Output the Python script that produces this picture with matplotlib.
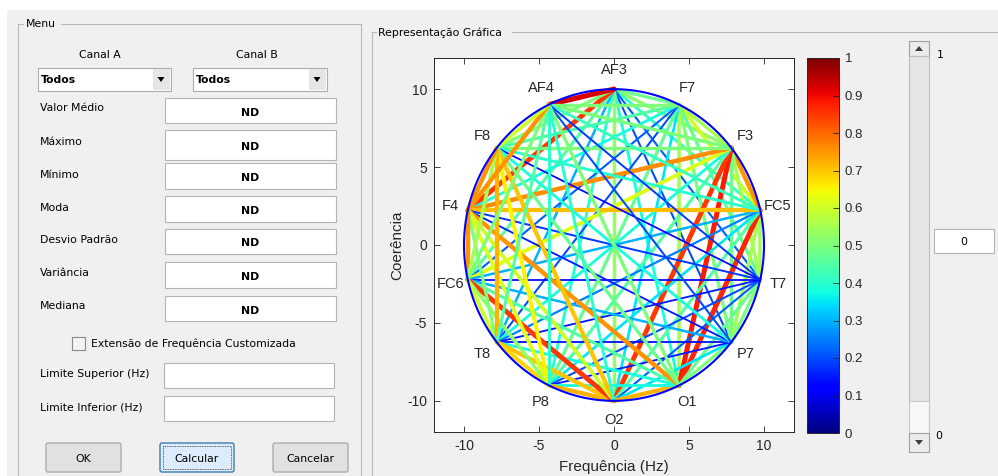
import numpy as np
import matplotlib
matplotlib.use("Agg")
import matplotlib.pyplot as plt
from matplotlib.patches import Rectangle, Polygon, FancyBboxPatch
from matplotlib.cm import ScalarMappable
from matplotlib.colors import Normalize

plt.rcParams["axes.unicode_minus"] = False

# ---------------------------------------------------------------- data
channels = ["AF3", "F7", "F3", "FC5", "T7", "P7", "O1",
            "O2", "P8", "T8", "FC6", "F4", "F8", "AF4"]

# coherence of each channel with the channels that follow it in the list
coh_AF3 = [0.48, 0.52, 0.42, 0.22, 0.20, 0.38, 0.53, 0.40, 0.30, 0.45, 0.85, 0.50, 0.92]
coh_F7 = [0.55, 0.60, 0.47, 0.50, 0.55, 0.35, 0.47, 0.20, 0.22, 0.38, 0.45, 0.50]
coh_F3 = [0.75, 0.55, 0.48, 0.88, 0.85, 0.45, 0.38, 0.62, 0.76, 0.50, 0.50]
coh_FC5 = [0.55, 0.55, 0.87, 0.45, 0.35, 0.25, 0.30, 0.71, 0.40, 0.42]
coh_T7 = [0.50, 0.48, 0.22, 0.20, 0.15, 0.12, 0.18, 0.12, 0.18]
coh_P7 = [0.50, 0.35, 0.15, 0.14, 0.30, 0.15, 0.38, 0.20]
coh_O1 = [0.72, 0.38, 0.38, 0.45, 0.75, 0.48, 0.50]
coh_O2 = [0.72, 0.70, 0.85, 0.60, 0.70, 0.40]
coh_P8 = [0.68, 0.52, 0.62, 0.65, 0.40]
coh_T8 = [0.60, 0.50, 0.72, 0.45]
coh_FC6 = [0.75, 0.55, 0.50]
coh_F4 = [0.75, 0.75]
coh_F8 = [0.60]
coh_rows = [coh_AF3, coh_F7, coh_F3, coh_FC5, coh_T7, coh_P7, coh_O1,
            coh_O2, coh_P8, coh_T8, coh_FC6, coh_F4, coh_F8]

axis_ticks = [-10, -5, 0, 5, 10]
cbar_ticks = [0, 0.1, 0.2, 0.3, 0.4, 0.5, 0.6, 0.7, 0.8, 0.9, 1]
stat_labels = ["Valor Médio", "Máximo", "Mínimo", "Moda",
               "Desvio Padrão", "Variância", "Mediana"]
stat_values = ["ND"] * len(stat_labels)

# ---------------------------------------------------------------- figure
W, H = 998, 476
BG = "#f0f0f0"
GUI_FONT = "DejaVu Sans"
PLOT_FONT = "Liberation Sans"
GUI_SIZE = 7.8

fig = plt.figure(figsize=(W / 100, H / 100), dpi=100, facecolor=BG)
ui = fig.add_axes([0, 0, 1, 1], zorder=0)
ui.set_xlim(0, W)
ui.set_ylim(H, 0)
ui.axis("off")


def box(x0, y0, x1, y1, face="white", edge="#ababab", lw=0.8, z=1):
    ui.add_patch(Rectangle((x0, y0), x1 - x0, y1 - y0, facecolor=face,
                           edgecolor=edge, linewidth=lw, zorder=z))


def text(x, y, s, size=GUI_SIZE, ha="left", weight="normal", color="black", **kw):
    ui.text(x, y, s, fontsize=size, ha=ha, va="center", family=GUI_FONT,
            weight=weight, color=color, **kw)


def button(x0, y0, x1, y1, label, face="#e1e1e1", edge="#adadad", focus=False):
    ui.add_patch(FancyBboxPatch((x0, y0), x1 - x0, y1 - y0,
                                boxstyle="round,pad=0,rounding_size=2",
                                facecolor=face, edgecolor=edge, linewidth=1.0, zorder=2))
    if focus:
        ui.add_patch(Rectangle((x0 + 3, y0 + 3), x1 - x0 - 6, y1 - y0 - 6,
                               facecolor="none", edgecolor="#333333",
                               linewidth=0.6, linestyle=(0, (1, 1)), zorder=3))
    text((x0 + x1) / 2, (y0 + y1) / 2 + 1, label, ha="center", zorder=4)


# window strip at the top / left
box(0, 0, W, 10, face="white", edge="none", lw=0)
box(0, 10, 7, H, face="white", edge="none", lw=0)

# ---------------------------------------------------------------- Menu panel
ui.plot([18, 18], [24, H + 2], color="#b9b9b9", lw=0.8)
ui.plot([361, 361], [24, H + 2], color="#b9b9b9", lw=0.8)
ui.plot([18, 23], [24, 24], color="#b9b9b9", lw=0.8)
ui.plot([61, 361], [24, 24], color="#b9b9b9", lw=0.8)
text(26, 24, "Menu")

text(100, 55, "Canal A", ha="center")
text(257, 55, "Canal B", ha="center")
for x0, x1 in [(38, 171), (193, 327)]:
    box(x0, 68, x1, 91, face="white", edge="#acacac")
    box(x1 - 18, 69, x1 - 1, 90, face="#e6e6e6", edge="none", lw=0)
    cx = x1 - 10
    ui.add_patch(Polygon([[cx - 3.5, 77], [cx + 3.5, 77], [cx, 82]],
                         closed=True, facecolor="black", edgecolor="none", zorder=3))
    text(x0 + 3, 80, "Todos", weight="bold")

stat_rows = [(98, 123), (130, 160), (163, 189), (196, 222),
             (229, 254), (262, 288), (296, 321)]
label_y = [108, 142, 175, 208, 240, 273, 306]
for (y0, y1), ly, lab, val in zip(stat_rows, label_y, stat_labels, stat_values):
    text(40, ly, lab)
    box(165, y0, 336, y1, face="white", edge="#b4b4b4")
    text(250, (y0 + y1) / 2 + 2, val, ha="center", weight="bold")

box(72, 337, 85, 350, face="#f4f4f4", edge="#8a8a8a")
text(91, 344, "Extensão de Frequência Customizada")

text(40, 374, "Limite Superior (Hz)")
box(164, 363, 334, 388, face="white", edge="#b4b4b4")
text(40, 407, "Limite Inferior (Hz)")
box(164, 396, 334, 421, face="white", edge="#b4b4b4")

button(46, 443, 121, 472, "OK")
button(160, 443, 234, 472, "Calcular", face="#dcecfc", edge="#3c7fb1", focus=True)
button(273, 443, 348, 472, "Cancelar")

# ---------------------------------------------------------------- plot panel
ui.plot([372, 372], [32, H + 2], color="#b9b9b9", lw=0.8)
ui.plot([372, 376], [32, 32], color="#b9b9b9", lw=0.8)
ui.plot([512, W + 2], [32, 32], color="#b9b9b9", lw=0.8)
text(378, 33, "Representação Gráfica")

# slider
box(909, 41, 929, 56, face="#ececec", edge="#a0a0a0")
ui.add_patch(Polygon([[915, 51], [923, 51], [919, 46]], closed=True,
                     facecolor="#404040", edgecolor="none", zorder=3))
box(909, 56, 929, 401, face="#e6e6e6", edge="#bdbdbd")
box(909, 401, 929, 433, face="#f7f7f7", edge="#c8c8c8")
box(909, 433, 929, 452, face="#ececec", edge="#a0a0a0")
ui.add_patch(Polygon([[915, 440], [923, 440], [919, 445]], closed=True,
                     facecolor="#404040", edgecolor="none", zorder=3))
text(937, 55, "1")
text(935, 436, "0")
box(934, 229, 994, 253, face="white", edge="#b4b4b4")
text(964, 242, "0", ha="center")

# ---------------------------------------------------------------- coherence graph
ax = fig.add_axes([434 / W, 1 - 432 / H, 360 / W, 374 / H], zorder=2)
ax.set_facecolor("white")
ax.set_xlim(-12, 12)
ax.set_ylim(-12, 12)

R = 10.0
n = len(channels)
ang = np.deg2rad(90.0 - np.arange(n) * 360.0 / n)
px, py = R * np.cos(ang), R * np.sin(ang)

cmap = plt.get_cmap("jet")
for i, row in enumerate(coh_rows):
    for k, v in enumerate(row):
        j = i + 1 + k
        ax.plot([px[i], px[j]], [py[i], py[j]], color=cmap(v),
                lw=0.72 * (1.2 + 4.3 * v), solid_capstyle="round", zorder=3)

t = np.linspace(0, 2 * np.pi, 400)
ax.plot(R * np.cos(t), R * np.sin(t), color="#0000ff", lw=1.5, zorder=4)

for name, x, y in zip(channels, px, py):
    ax.text(1.12 * x, 1.12 * y, name, ha="center", va="center",
            fontsize=10.5, family=PLOT_FONT, color="#262626", zorder=2)

ax.set_xticks(axis_ticks)
ax.set_yticks(axis_ticks)
ax.tick_params(direction="in", length=4, width=0.6, top=True, right=True,
               labelsize=10, colors="#262626", pad=5)
for lab in ax.get_xticklabels() + ax.get_yticklabels():
    lab.set_family(PLOT_FONT)
for sp in ax.spines.values():
    sp.set_color("#262626")
    sp.set_linewidth(0.7)
ax.set_xlabel("Frequência (Hz)", fontsize=11, family=PLOT_FONT, color="#262626", labelpad=5)
ax.set_ylabel("Coerência", fontsize=11, family=PLOT_FONT, color="#262626", labelpad=2)

# colour bar
cax = fig.add_axes([807 / W, 1 - 433 / H, 32 / W, 375 / H], zorder=2)
cb = fig.colorbar(ScalarMappable(norm=Normalize(0, 1), cmap=cmap), cax=cax)
cb.set_ticks(cbar_ticks)
cb.set_ticklabels([f"{v:g}" for v in cbar_ticks])
cb.outline.set_edgecolor("#262626")
cb.outline.set_linewidth(0.7)
cax.tick_params(direction="in", length=4, width=0.6, labelsize=9.5,
                colors="#262626", pad=4)
for lab in cax.get_yticklabels():
    lab.set_family(PLOT_FONT)

fig.savefig("out.png", dpi=100, facecolor=BG)
